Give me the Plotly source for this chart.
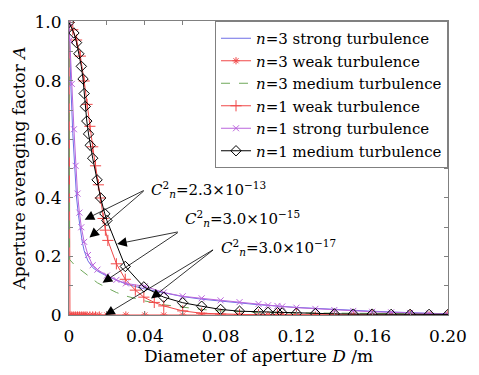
import plotly.graph_objects as go

# Aperture diameter D (m) and averaging factor A for each case
d_n3_strong = [0, 0.0004, 0.001, 0.002, 0.003, 0.004, 0.005, 0.006, 0.007, 0.008, 0.01, 0.0125,
               0.015, 0.02, 0.03, 0.04, 0.05, 0.06, 0.07, 0.08, 0.1, 0.12, 0.14, 0.16, 0.18, 0.2]
a_n3_strong = [1.0, 0.90, 0.78, 0.62, 0.49, 0.40, 0.34, 0.29, 0.25, 0.22, 0.185, 0.162,
               0.15, 0.133, 0.106, 0.089, 0.075, 0.063, 0.054, 0.047, 0.035, 0.026, 0.019, 0.013, 0.008, 0.004]

d_n3_weak = [0, 0.0005, 0.0015, 0.0025, 0.0035, 0.0045, 0.0055, 0.0065, 0.0075, 0.0085, 0.0095,
             0.011, 0.0125, 0.014, 0.016, 0.02, 0.03, 0.04, 0.05, 0.06, 0.07, 0.08, 0.09, 0.1,
             0.105, 0.11, 0.1125, 0.12, 0.13, 0.14, 0.15, 0.16, 0.17, 0.18, 0.19, 0.2]
a_n3_weak = [1.0] + [0.0] * 35

d_n3_medium = [0, 0.0003, 0.003, 0.006, 0.01, 0.015, 0.02, 0.025, 0.03, 0.04, 0.05, 0.06,
               0.07, 0.08, 0.1, 0.12, 0.14, 0.16, 0.18, 0.2]
a_n3_medium = [1.0, 0.19, 0.17, 0.155, 0.135, 0.11, 0.093, 0.077, 0.065, 0.048, 0.035, 0.026,
               0.019, 0.014, 0.009, 0.007, 0.006, 0.005, 0.005, 0.004]

d_n1_weak = [0, 0.002, 0.004, 0.006, 0.008, 0.0095, 0.011, 0.0125, 0.014, 0.0155, 0.0165, 0.018,
             0.0192, 0.0205, 0.025, 0.0297, 0.035, 0.0395, 0.045, 0.05, 0.06, 0.07, 0.08, 0.09,
             0.1, 0.11, 0.12, 0.14, 0.16, 0.18, 0.2]
a_n1_weak = [1.0, 0.975, 0.94, 0.885, 0.80, 0.72, 0.645, 0.575, 0.51, 0.445, 0.40, 0.33,
             0.29, 0.255, 0.175, 0.122, 0.085, 0.061, 0.043, 0.031, 0.014, 0.006, 0.003, 0.002,
             0.001, 0.001, 0.001, 0.0, 0.0, 0.0, 0.0]

d_n1_strong = [0, 0.0005, 0.0015, 0.0026, 0.0035, 0.0045, 0.0055, 0.0065, 0.008, 0.01, 0.0125,
               0.015, 0.02, 0.025, 0.03, 0.04, 0.05, 0.06, 0.07, 0.08, 0.09, 0.1, 0.105, 0.11,
               0.1125, 0.12, 0.13, 0.14, 0.15, 0.16, 0.17, 0.18, 0.19, 0.2]
a_n1_strong = [1.0, 0.94, 0.79, 0.635, 0.51, 0.415, 0.35, 0.30, 0.25, 0.205, 0.17,
               0.155, 0.135, 0.12, 0.108, 0.098, 0.077, 0.064, 0.057, 0.050, 0.044, 0.038, 0.033, 0.031,
               0.029, 0.025, 0.021, 0.017, 0.014, 0.011, 0.009, 0.007, 0.005, 0.003]

d_n1_medium = [0, 0.0026, 0.004, 0.0052, 0.0065, 0.0074, 0.008, 0.0086, 0.0094, 0.0103, 0.0112,
               0.0125, 0.0148, 0.0167, 0.0189, 0.02, 0.0297, 0.0395, 0.05, 0.06, 0.07, 0.08, 0.09,
               0.1, 0.105, 0.11, 0.1125, 0.12, 0.13, 0.14, 0.15, 0.16, 0.17, 0.18, 0.19, 0.2]
a_n1_medium = [1.0, 0.964, 0.931, 0.893, 0.85, 0.807, 0.757, 0.713, 0.663, 0.619, 0.58,
               0.536, 0.462, 0.40, 0.346, 0.323, 0.166, 0.096, 0.061, 0.042, 0.030, 0.019, 0.013,
               0.011, 0.009, 0.008, 0.007, 0.006, 0.005, 0.004, 0.003, 0.003, 0.002, 0.002, 0.002, 0.002]

x_ticks = [0, 0.02, 0.04, 0.06, 0.08, 0.10, 0.12, 0.14, 0.16, 0.18, 0.20]
x_labels = ["0", "", "0.04", "", "0.08", "", "0.12", "", "0.16", "", "0.20"]
y_ticks = [0, 0.1, 0.2, 0.3, 0.4, 0.5, 0.6, 0.7, 0.8, 0.9, 1.0]
y_labels = ["0", "", "0.2", "", "0.4", "", "0.6", "", "0.8", "", "1.0"]

# Turbulence-strength labels: (text, D, A) and arrows: (tail D, tail A, head D, head A)
cn2_labels = [
    ("<i>C</i><sup>2</sup><sub><i>n</i></sub>=2.3×10<sup>−13</sup>", 0.0423, 0.43),
    ("<i>C</i><sup>2</sup><sub><i>n</i></sub>=3.0×10<sup>−15</sup>", 0.0600, 0.33),
    ("<i>C</i><sup>2</sup><sub><i>n</i></sub>=3.0×10<sup>−17</sup>", 0.0790, 0.23),
]
cn2_arrows = [
    (0.0402, 0.428, 0.00825, 0.326),
    (0.0402, 0.428, 0.0108, 0.265),
    (0.0582, 0.285, 0.0254, 0.243),
    (0.0582, 0.285, 0.0177, 0.110),
    (0.0768, 0.226, 0.0433, 0.056),
    (0.0768, 0.226, 0.0191, 0.0),
]

FONT = "DejaVu Serif"
BLUE = "#6f6fe6"
RED = "#f04848"
GREEN = "#6fa85a"
PURPLE = "#bb66dd"

fig = go.Figure()
fig.add_trace(go.Scatter(x=d_n3_strong, y=a_n3_strong, mode="lines",
                         line=dict(color=BLUE, width=1),
                         name="<i>n</i>=3 strong turbulence"))
fig.add_trace(go.Scatter(x=d_n3_weak, y=a_n3_weak, mode="lines+markers",
                         line=dict(color=RED, width=1),
                         marker=dict(symbol="asterisk-open", size=6, color=RED, line=dict(width=1, color=RED)),
                         name="<i>n</i>=3 weak turbulence"))
fig.add_trace(go.Scatter(x=d_n3_medium, y=a_n3_medium, mode="lines",
                         line=dict(color=GREEN, width=1, dash="dash"),
                         name="<i>n</i>=3 medium turbulence"))
fig.add_trace(go.Scatter(x=d_n1_weak, y=a_n1_weak, mode="lines+markers",
                         line=dict(color=RED, width=1),
                         marker=dict(symbol="cross-thin-open", size=8, color=RED, line=dict(width=1, color=RED)),
                         name="<i>n</i>=1 weak turbulence"))
fig.add_trace(go.Scatter(x=d_n1_strong, y=a_n1_strong, mode="lines+markers",
                         line=dict(color=PURPLE, width=1),
                         marker=dict(symbol="x-thin-open", size=6, color=PURPLE, line=dict(width=1, color=PURPLE)),
                         name="<i>n</i>=1 strong turbulence"))
fig.add_trace(go.Scatter(x=d_n1_medium, y=a_n1_medium, mode="lines+markers",
                         line=dict(color="black", width=1),
                         marker=dict(symbol="diamond-open", size=8, color="black", line=dict(width=1, color="black")),
                         name="<i>n</i>=1 medium turbulence"))

for text, d, a in cn2_labels:
    fig.add_annotation(x=d, y=a, text=text, showarrow=False, xanchor="left", yanchor="middle",
                       font=dict(family=FONT, size=15, color="black"))
for td, ta, hd, ha in cn2_arrows:
    fig.add_annotation(x=hd, y=ha, ax=td, ay=ta, xref="x", yref="y", axref="x", ayref="y",
                       text="", showarrow=True, arrowhead=2, arrowsize=2.4, arrowwidth=0.8,
                       arrowcolor="black", standoff=0, startstandoff=0)

axis_common = dict(showgrid=False, zeroline=False, showline=True, linecolor="#808080", linewidth=1,
                   mirror="ticks", ticks="inside", ticklen=4, tickcolor="#808080",
                   tickfont=dict(family=FONT, size=17, color="black"))

fig.update_layout(
    width=479, height=375,
    margin=dict(l=69, r=22, t=12, b=60),
    paper_bgcolor="white", plot_bgcolor="white",
    font=dict(family=FONT, color="black"),
    xaxis=dict(range=[0, 0.2], tickvals=x_ticks, ticktext=x_labels, ticklabelstandoff=6,
               title=dict(text="Diameter of aperture <i>D</i> /m", font=dict(family=FONT, size=17), standoff=2),
               **axis_common),
    yaxis=dict(range=[0, 1.005], tickvals=y_ticks, ticktext=y_labels, ticklabelstandoff=3,
               title=dict(text="Aperture averaging factor <i>A</i>", font=dict(family=FONT, size=17), standoff=4),
               **axis_common),
    legend=dict(x=1, y=1, xanchor="right", yanchor="top", bgcolor="white",
                bordercolor="#808080", borderwidth=1, font=dict(family=FONT, size=15),
                tracegroupgap=0, itemwidth=30),
    showlegend=True,
)

fig.write_html("out.html")
